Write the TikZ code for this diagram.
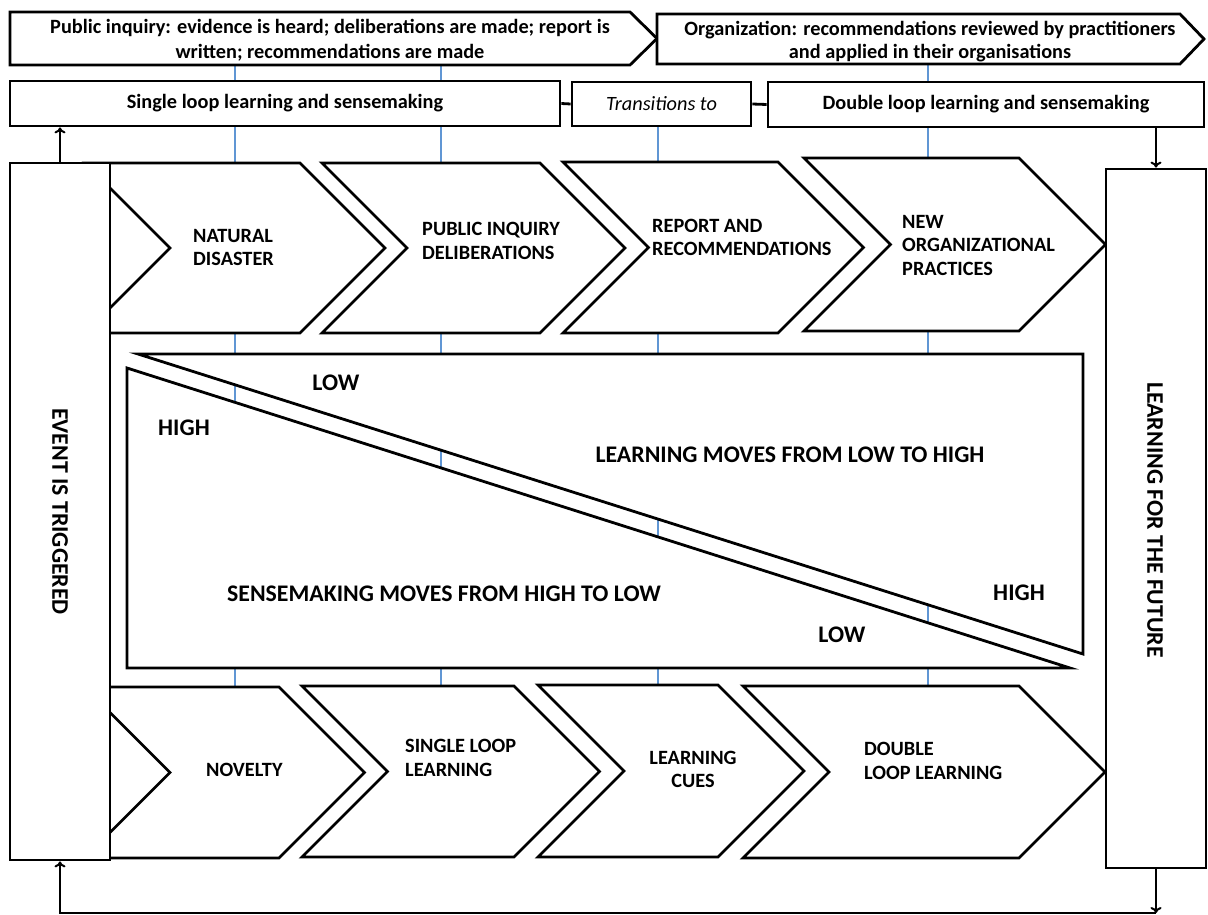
\documentclass[tikz,border=0pt]{standalone}
\usepackage{fontspec}
\setmainfont{Carlito}
\usetikzlibrary{arrows.meta}
\definecolor{gridblue}{RGB}{96,150,212}
\newcommand\mychev[4]{%
  \path[outl] (#1,#2) -- (#3,#2) -- ({#3+(#4-#2)/2},{(#2+#4)/2}) -- (#3,#4) -- (#1,#4) -- ({#1+(#4-#2)/2},{(#2+#4)/2}) -- cycle;}
\begin{document}
\begin{tikzpicture}[x=1pt,y=-1pt,
  outl/.style={draw=black,line width=2.8pt,fill=white,line join=miter},
  box/.style={outl,rectangle,inner sep=0pt},
  lbl/.style={font=\fontsize{20.3}{23.5}\selectfont\bfseries,inner sep=0pt},
  big/.style={font=\fontsize{23.8}{28}\selectfont\bfseries,inner sep=0pt},
  lab/.style={lbl,align=left,anchor=west},
  conn/.style={line width=2pt,-{To[length=6pt,width=11pt]}},
  guide/.style={draw=gridblue,line width=1.2pt}]
\useasboundingbox (0,0) rectangle (1208,915);
% guide lines (behind)
\foreach \gx in {235,441,928} \draw[guide] (\gx,65) -- (\gx,686);
\draw[guide] (658,126) -- (658,686);
% banners
\path[outl] (10,12) -- (630,12) -- (657,38.5) -- (630,65) -- (10,65) -- cycle;
\path[outl] (657,14) -- (1180,14) -- (1204,39) -- (1180,64) -- (657,64) -- cycle;
\node[lbl,align=center,font=\fontsize{20.3}{25}\selectfont\bfseries] (b1t) at (330,40.5) {Public inquiry: evidence is heard; deliberations are made; report is\\written; recommendations are made};
\node[lbl,align=center,font=\fontsize{20.3}{23}\selectfont\bfseries] (b2t) at (930,41.5) {Organization: recommendations reviewed by practitioners\\and applied in their organisations};
% second row boxes
\node[box,minimum width=550pt,minimum height=45pt,lbl] (sl) at (285,103.5) {Single loop learning and sensemaking};
\node[box,minimum width=179pt,minimum height=44pt,font=\fontsize{20.3}{23}\selectfont\itshape] (tr) at (661.5,104) {Transitions to};
\node[box,minimum width=436pt,minimum height=45pt,lbl] (dl) at (986,104.5) {Double loop learning and sensemaking};
\draw[line width=2.8pt] (sl.east) -- (tr.west);
\draw[line width=2.8pt] (tr.east) -- (dl.west);
% top chevrons
\mychev{85}{163}{300}{333}
\mychev{322}{163}{540}{333}
\mychev{563}{162}{778}{333}
\mychev{804}{158}{1019}{331}
% bottom chevrons
\mychev{84.5}{687}{279}{858}
\mychev{302}{686}{514}{857}
\mychev{538}{685}{718}{857}
\mychev{743}{686}{1019}{858}
% triangles
\path[outl] (138,354) -- (1083,354) -- (1083,654) -- cycle;
\path[outl] (127,368) -- (127,668) -- (1070,668) -- cycle;
% side bars
\node[box,minimum width=100pt,minimum height=697pt] (lbar) at (60,511.5) {};
\node[box,minimum width=100pt,minimum height=699pt] (rbar) at (1156,518.5) {};
\node[big,rotate=-90] (lbt) at (lbar.center) {EVENT IS TRIGGERED};
\node[big,rotate=-90] (rbt) at (1155,520) {LEARNING FOR THE FUTURE};
% chevron labels
\node[lab] (c1) at (193,247.5) {NATURAL\\DISASTER};
\node[lab] (c2) at (422,241) {PUBLIC INQUIRY\\DELIBERATIONS};
\node[lab] (c3) at (652,237.5) {REPORT AND\\RECOMMENDATIONS};
\node[lab] (c4) at (902,245) {NEW\\ORGANIZATIONAL\\PRACTICES};
\node[lab] (d1) at (206,770) {NOVELTY};
\node[lab] (d2) at (405,758) {SINGLE LOOP\\LEARNING};
\node[lbl,align=center] (d3) at (693,769.5) {LEARNING\\CUES};
\node[lab] (d4) at (864,761) {DOUBLE\\LOOP LEARNING};
% triangle labels
\node[big] (t1) at (336,383) {LOW};
\node[big] (t2) at (184,428) {HIGH};
\node[big] (t3) at (790,455) {LEARNING MOVES FROM LOW TO HIGH};
\node[big] (t4) at (444,594) {SENSEMAKING MOVES FROM HIGH TO LOW};
\node[big] (t5) at (1019,593) {HIGH};
\node[big] (t6) at (842,635) {LOW};
% arrows
\coordinate (bot) at (0,913);
\draw[conn] (lbar.north) -- (lbar.north |- sl.south);
\draw[conn] (rbar.north |- dl.south) -- (rbar.north);
\draw[conn] (rbar.south) -- (rbar.south |- bot);
\draw[conn] (rbar.south |- bot) -- (lbar.south |- bot) -- (lbar.south);
\end{tikzpicture}
\end{document}
